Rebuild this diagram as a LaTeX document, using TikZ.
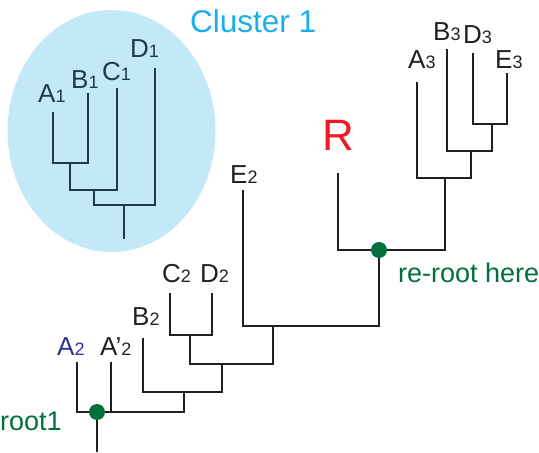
\documentclass[tikz,border=0pt]{standalone}
\usepackage{fontspec}
\setmainfont{Liberation Sans}
\usetikzlibrary{positioning}
\definecolor{inkgray}{HTML}{231F20}
\definecolor{clustink}{HTML}{1F3A4D}
\definecolor{clustfill}{HTML}{C3E8F8}
\definecolor{clustblue}{HTML}{1AAEEB}
\definecolor{rootgreen}{HTML}{00703C}
\definecolor{navy}{HTML}{2E3192}
\definecolor{rred}{HTML}{ED1C24}
\newcommand{\tx}[2]{#1{\fontsize{18}{18}\selectfont #2}}

\begin{document}
\begin{tikzpicture}[x=1pt,y=-1pt,
  branch/.style={line width=2.7pt,draw=inkgray},
  taxon/.style={anchor=base west,inner sep=0pt,font=\fontsize{26}{26}\selectfont,text=inkgray},
  greenlab/.style={anchor=base west,inner sep=0pt,font=\fontsize{27}{27}\selectfont,text=rootgreen},
  dot/.style={circle,fill=rootgreen,inner sep=0pt,minimum size=16pt}]
  \useasboundingbox (0,0) rectangle (539,453);

  % cluster 1
  \fill[clustfill] (111.5,131) ellipse (104 and 121);
  \node[anchor=base west,inner sep=0pt,font=\fontsize{31.5}{31.5}\selectfont,text=clustblue] (clus) at (190,32) {Cluster 1};
  \coordinate (tA1) at (53,112);
  \coordinate (tB1) at (88,93);
  \coordinate (tC1) at (117,88);
  \coordinate (tD1) at (155,68);
  \coordinate (c1) at (70,163);
  \coordinate (c2) at (94,190);
  \coordinate (c3) at (124,205);
  \coordinate (cbase) at (124,239);
  \begin{scope}[branch,draw=clustink]
    \draw (tA1) |- (c1) -| (tB1);
    \draw (c1) |- (c2) -| (tC1);
    \draw (c2) |- (c3) -| (tD1);
    \draw (c3) -- (cbase);
  \end{scope}
  \node[taxon,text=clustink] (A1) at (38,102) {\tx{A}{1}};
  \node[taxon,text=clustink] (B1) at (71,88) {\tx{B}{1}};
  \node[taxon,text=clustink] (C1) at (102,80) {\tx{C}{1}};
  \node[taxon,text=clustink] (D1) at (130,57) {\tx{D}{1}};

  % main tree
  \coordinate (tA2) at (77,362);
  \coordinate (tAp2) at (111,362);
  \coordinate (tB2) at (143,338);
  \coordinate (tC2) at (170,293);
  \coordinate (tD2) at (212,293);
  \coordinate (tE2) at (243,190);
  \coordinate (tR) at (338,173);
  \coordinate (tA3) at (417,82);
  \coordinate (tB3) at (447,49);
  \coordinate (tD3) at (473,53);
  \coordinate (tE3) at (507,73);
  \coordinate (root1) at (97,412);
  \coordinate (base1) at (97,452);
  \coordinate (k1) at (184,392);
  \coordinate (k2) at (222,364);
  \coordinate (k3) at (190,335);
  \coordinate (k4) at (273,326);
  \coordinate (reroot) at (379,250);
  \coordinate (k5) at (445,178);
  \coordinate (k6) at (471,151);
  \coordinate (k7) at (492,124);
  \begin{scope}[branch]
    \draw (tA2) |- (root1) -| (k1);
    \draw (tAp2) -- (tAp2 |- root1);
    \draw (root1) -- (base1);
    \draw (tB2) |- (k1) -| (k2);
    \draw (k3) |- (k2) -| (k4);
    \draw (tC2) |- (k3) -| (tD2);
    \draw (tE2) |- (k4) -| (reroot);
    \draw (tR) |- (reroot) -| (k5);
    \draw (tA3) |- (k5) -| (k6);
    \draw (tB3) |- (k6) -| (k7);
    \draw (tD3) |- (k7) -| (tE3);
  \end{scope}
  \node[dot] (d1) at (root1) {};
  \node[dot] (d2) at (reroot) {};

  \node[taxon,text=navy] (A2) at (57,355) {\tx{A}{2}};
  \node[taxon] (Ap2) at (100,355) {\tx{A’}{2}};
  \node[taxon] (B2) at (132,325) {\tx{B}{2}};
  \node[taxon] (C2) at (162,282) {\tx{C}{2}};
  \node[taxon] (D2) at (200,282) {\tx{D}{2}};
  \node[taxon] (E2) at (230,183) {\tx{E}{2}};
  \node[taxon] (A3) at (408,68) {\tx{A}{3}};
  \node[taxon] (B3) at (433,40) {\tx{B}{3}};
  \node[taxon] (D3) at (463,43) {\tx{D}{3}};
  \node[taxon] (E3) at (495,68) {\tx{E}{3}};
  \node[anchor=base west,inner sep=0pt,font=\fontsize{44}{44}\selectfont,text=rred] (R) at (322,150) {R};
  \node[greenlab] (rt) at (0,430) {root1};
  \node[greenlab] (rr) at (398,282) {re-root here};
\end{tikzpicture}
\end{document}
